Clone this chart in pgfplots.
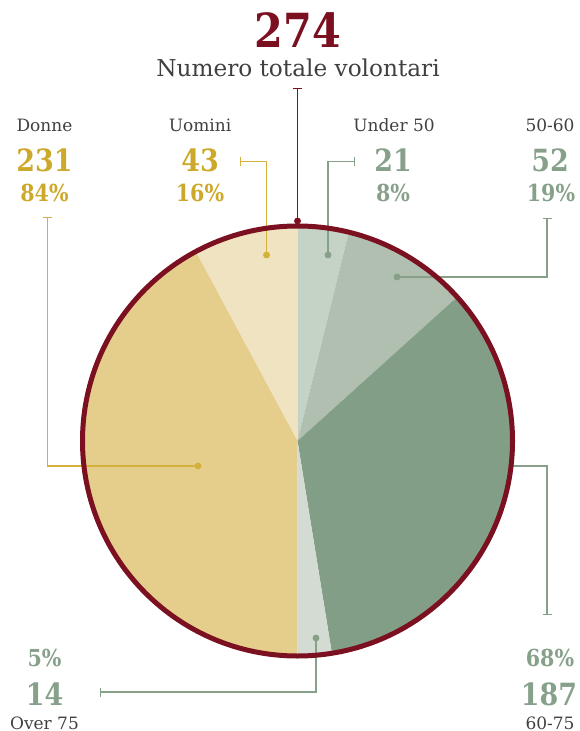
\documentclass[border=0pt]{standalone}
\usepackage{pgfplots}
\pgfplotsset{compat=1.18}
\usetikzlibrary{arrows.meta}
\usepackage{fontspec}
\setmainfont{DejaVu Serif}[BoldFeatures={FakeStretch=0.88}]

\definecolor{wine}{HTML}{7B1020}
\definecolor{gold}{HTML}{CDA92B}
\definecolor{goldline}{HTML}{D4B13A}
\definecolor{sage}{HTML}{86A08A}
\definecolor{labgrey}{HTML}{404040}
\definecolor{cDonne}{HTML}{E5CD8B}
\definecolor{cUomini}{HTML}{F0E3C1}
\definecolor{cUnder}{HTML}{C5D3C7}
\definecolor{cCinq}{HTML}{B0BFB0}
\definecolor{cSess}{HTML}{829E86}
\definecolor{cOver}{HTML}{D4DBD2}

% counts
\def\nTot{274}
\def\nDonne{231}
\def\nUomini{43}
\def\nUnder{21}
\def\nCinq{52}
\def\nSess{187}
\def\nOver{14}

\newcommand{\slice}[3]{\fill[#1] (axis cs:297.5,441) -- ++(#2:107.5pt)
  arc[start angle=#2, end angle=#3, radius=107.5pt] -- cycle;}
\newcommand{\bignum}[1]{\fontsize{15.3}{16}\selectfont\bfseries #1}
\newcommand{\pct}[1]{\fontsize{11.7}{13}\selectfont\bfseries #1}
\newcommand{\lab}[1]{\fontsize{8.5}{10}\selectfont #1}

\begin{document}
\begin{tikzpicture}[every node/.style={inner sep=0pt, outer sep=0pt}]
% angles: gender on the left half, age on the right half
\pgfmathsetmacro\deg{180/\nTot}
\pgfmathsetmacro\aU{90+\deg*\nUomini}
\pgfmathsetmacro\bA{90-\deg*\nUnder}
\pgfmathsetmacro\bB{\bA-\deg*\nCinq}
\pgfmathsetmacro\bC{\bB-\deg*\nSess}
\begin{axis}[
    hide axis, scale only axis,
    width=289.5pt, height=365.5pt,
    xmin=0, xmax=579, ymin=0, ymax=731,
    y dir=reverse, clip=false,
  ]
  \path (rel axis cs:0,0) rectangle (rel axis cs:1,1);

  % slices
  \slice{cUomini}{90}{\aU}
  \slice{cDonne}{\aU}{270}
  \slice{cUnder}{90}{\bA}
  \slice{cCinq}{\bA}{\bB}
  \slice{cSess}{\bB}{\bC}
  \slice{cOver}{\bC}{-90}

  % leader lines
  \addplot[goldline, line width=0.6pt, arrows={Bar[width=4.5pt]-}] coordinates {(240,161.5) (266.5,161.5) (266.5,255)};
  \addplot[goldline, line width=0.6pt, arrows={Bar[width=4.5pt]-}] coordinates {(47.5,217) (47.5,466) (198,466)};
  \addplot[sage, line width=0.6pt, arrows={Bar[width=4.5pt]-}] coordinates {(355,161.5) (328,161.5) (328,255)};
  \addplot[sage, line width=0.6pt, arrows={Bar[width=4.5pt]-}] coordinates {(547,218) (547,277) (397,277)};
  \addplot[sage, line width=0.6pt, arrows={Bar[width=4.5pt]-}] coordinates {(547,615) (547,466) (508,466)};
  \addplot[sage, line width=0.6pt, arrows={Bar[width=4.5pt]-}] coordinates {(100,692) (316,692) (316,638)};
  \addplot[wine, line width=0.6pt, arrows={Bar[width=4.5pt]-}] coordinates {(297.5,88) (297.5,221)};

  % border
  \draw[wine, line width=2.5pt] (axis cs:297.5,441) circle[radius=107.5pt];

  % dots
  \addplot[only marks, mark=*, mark size=1.5pt, goldline] coordinates {(266.5,255) (198,466)};
  \addplot[only marks, mark=*, mark size=1.5pt, sage] coordinates {(328,255) (397,277) (316,638)};
  \addplot[only marks, mark=*, mark size=1.5pt, wine] coordinates {(297.5,221)};

  % title
  \node[anchor=base, wine] at (axis cs:298,48) {\fontsize{23.5}{25}\selectfont\bfseries 274};
  \node[anchor=base, labgrey] at (axis cs:298,77) {\fontsize{11.6}{13}\selectfont Numero totale volontari};

  % Donne
  \node[anchor=base, labgrey] at (axis cs:44.5,132) {\lab{Donne}};
  \node[anchor=base, gold] at (axis cs:44.5,172) {\bignum{231}};
  \node[anchor=base, gold] at (axis cs:44.5,202) {\pct{84\%}};
  % Uomini
  \node[anchor=base, labgrey] at (axis cs:200,132) {\lab{Uomini}};
  \node[anchor=base, gold] at (axis cs:200,172) {\bignum{43}};
  \node[anchor=base, gold] at (axis cs:200,202) {\pct{16\%}};
  % Under 50
  \node[anchor=base, labgrey] at (axis cs:394,132) {\lab{Under 50}};
  \node[anchor=base, sage] at (axis cs:393,172) {\bignum{21}};
  \node[anchor=base, sage] at (axis cs:393,202) {\pct{8\%}};
  % 50-60
  \node[anchor=base, labgrey] at (axis cs:550,132) {\lab{50-60}};
  \node[anchor=base, sage] at (axis cs:550,172) {\bignum{52}};
  \node[anchor=base, sage] at (axis cs:551,202) {\pct{19\%}};
  % Over 75
  \node[anchor=base, sage] at (axis cs:44.5,666) {\pct{5\%}};
  \node[anchor=base, sage] at (axis cs:44.5,705) {\bignum{14}};
  \node[anchor=base, labgrey] at (axis cs:44.5,729) {\lab{Over 75}};
  % 60-75
  \node[anchor=base, sage] at (axis cs:550,666) {\pct{68\%}};
  \node[anchor=base, sage] at (axis cs:549,705) {\bignum{187}};
  \node[anchor=base, labgrey] at (axis cs:550,729) {\lab{60-75}};
\end{axis}
\end{tikzpicture}
\end{document}
